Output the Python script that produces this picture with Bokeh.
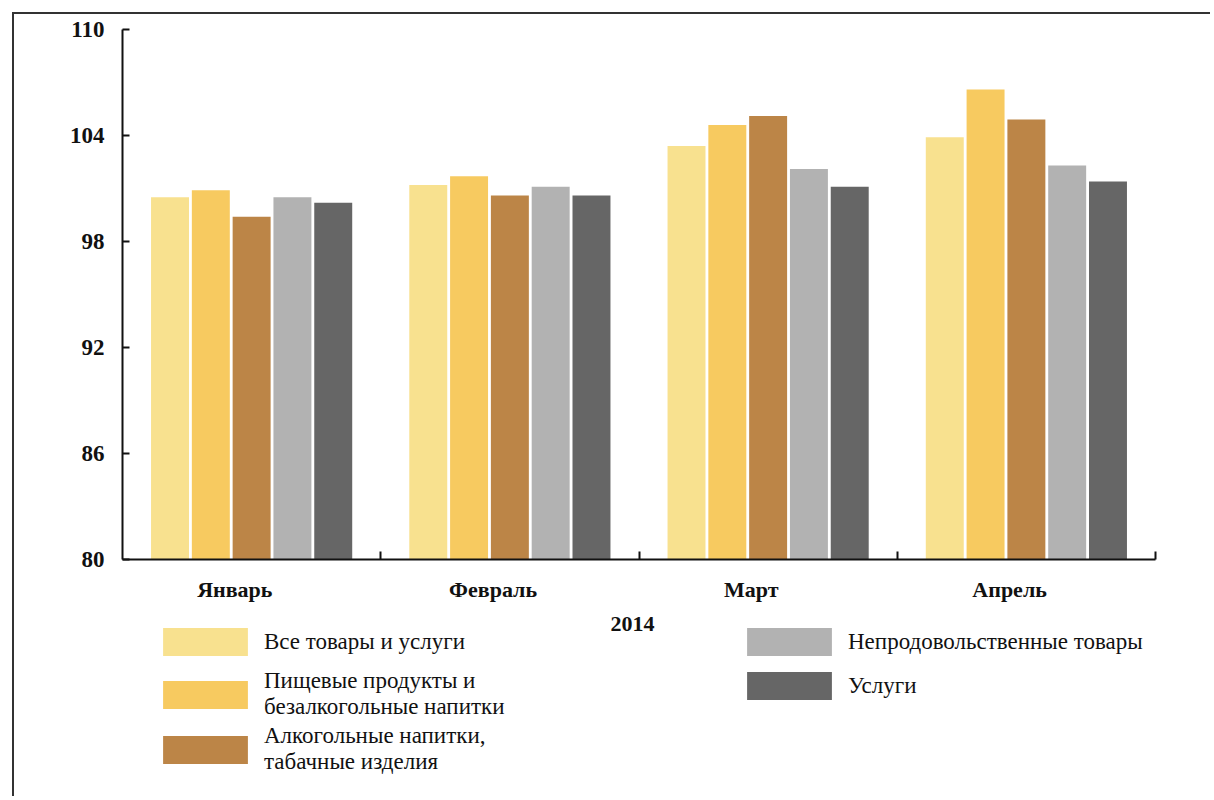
from bokeh.plotting import figure
from bokeh.models import (FixedTicker, Legend, LegendItem, ColumnDataSource, Range1d, Label)
from bokeh.layouts import column
from bokeh.embed import file_html
from bokeh.resources import INLINE

months = ["Январь", "Февраль", "Март", "Апрель"]
year_label = "2014"
series_names = [
    "Все товары и услуги",
    "Пищевые продукты и\nбезалкогольные напитки",
    "Алкогольные напитки,\nтабачные изделия",
    "Непродовольственные товары",
    "Услуги",
]
all_goods = [100.5, 101.2, 103.4, 103.9]
food = [100.9, 101.7, 104.6, 106.6]
alcohol = [99.4, 100.6, 105.1, 104.9]
nonfood = [100.5, 101.1, 102.1, 102.3]
services = [100.2, 100.6, 101.1, 101.4]
series_values = [all_goods, food, alcohol, nonfood, services]
colors = ["#F8E18F", "#F7CA60", "#BC8547", "#B2B2B2", "#666666"]
y_ticks = [80, 86, 92, 98, 104, 110]
base = 80

FONT = "Liberation Serif"
INK = "#111111"
LFS = "23px"

# geometry (pixels)
W = 1196
AXIS_W = 1033          # drawn length of the x axis
FRAME_W = 1068         # plot frame (wider, so the legend column on the right is not clipped)
LEFT = 108
TOP = 15
P_H = 590
Q_H = 192

# ---------- main chart ----------
n = len(months)
p = figure(width=W, height=P_H, output_backend="svg", toolbar_location=None,
           x_range=Range1d(0, n * FRAME_W / AXIS_W), y_range=Range1d(80, 110),
           min_border_left=LEFT, min_border_right=W - LEFT - FRAME_W,
           min_border_top=TOP, min_border_bottom=35)
p.grid.visible = False
p.outline_line_color = None

pitch = 0.158
bw = 0.147
for j, (vals, col) in enumerate(zip(series_values, colors)):
    xs = [i + 0.5 + (j - 2) * pitch for i in range(n)]
    src = ColumnDataSource(dict(x=xs, top=vals))
    p.vbar(x="x", top="top", bottom=base, width=bw, source=src,
           fill_color=col, line_color=None)

p.yaxis.ticker = FixedTicker(ticks=y_ticks)
p.yaxis.major_tick_in = 7
p.yaxis.major_tick_out = 0
p.yaxis.minor_tick_line_color = None
p.yaxis.axis_line_width = 2
p.yaxis.major_tick_line_width = 2
p.yaxis.axis_line_color = INK
p.yaxis.major_tick_line_color = INK
p.yaxis.major_label_text_font = FONT
p.yaxis.major_label_text_font_style = "bold"
p.yaxis.major_label_text_font_size = "23px"
p.yaxis.major_label_text_color = INK
p.yaxis.major_label_standoff = 18

# month labels sit slightly left of the group centres, as in the original
label_pos = [i + 0.435 for i in range(n)]
bounds = [i + 1 for i in range(n)]
p.xaxis.bounds = (0, n)
p.xaxis.ticker = FixedTicker(ticks=label_pos, minor_ticks=bounds)
p.xaxis.major_label_overrides = {c: m for c, m in zip(label_pos, months)}
p.xaxis.major_tick_line_color = None
p.xaxis.minor_tick_in = 8
p.xaxis.minor_tick_out = 0
p.xaxis.minor_tick_line_width = 2
p.xaxis.minor_tick_line_color = INK
p.xaxis.axis_line_width = 2
p.xaxis.axis_line_color = INK
p.xaxis.major_label_text_font = FONT
p.xaxis.major_label_text_font_style = "bold"
p.xaxis.major_label_text_font_size = "22px"
p.xaxis.major_label_text_color = INK
p.xaxis.major_label_standoff = 11

# ---------- legend / caption panel (frame aligned with the chart frame) ----------
q = figure(width=W, height=Q_H, output_backend="svg", toolbar_location=None,
           x_range=Range1d(0, FRAME_W), y_range=Range1d(0, Q_H),
           min_border_left=LEFT, min_border_right=W - LEFT - FRAME_W,
           min_border_top=0, min_border_bottom=0,
           x_axis_type=None, y_axis_type=None)
q.grid.visible = False
q.outline_line_color = None

q.add_layout(Label(x=510, y=Q_H - 19, text=year_label, text_align="center",
                   text_baseline="middle", text_font=FONT, text_font_style="bold",
                   text_font_size="22px", text_color=INK))

dummy = []
for col in colors:
    r = q.vbar(x=[-5000], top=[-5000], bottom=[-5100], width=1,
               fill_color=col, line_color=None)
    dummy.append(r)

# legend entry positions: (left, bottom) in screen px of the panel frame
legend_pos = [(30, 137), (30, 76), (30, 21), (614, 137), (614, 93)]
for k, loc in enumerate(legend_pos):
    lg = Legend(items=[LegendItem(label=series_names[k], renderers=[dummy[k]])],
                location=loc, orientation="vertical",
                glyph_width=106, glyph_height=35, label_standoff=6,
                label_text_font=FONT, label_text_font_size=LFS,
                label_text_line_height=0.88,
                label_text_color=INK, spacing=0, padding=0, margin=0,
                border_line_color=None, background_fill_alpha=0)
    q.add_layout(lg)

layout = column(p, q, styles={"margin-left": "12px", "margin-top": "12px",
                               "border-left": "2px solid #333333",
                               "border-top": "2px solid #333333"})

open("out.html", "w").write(file_html(layout, INLINE))
